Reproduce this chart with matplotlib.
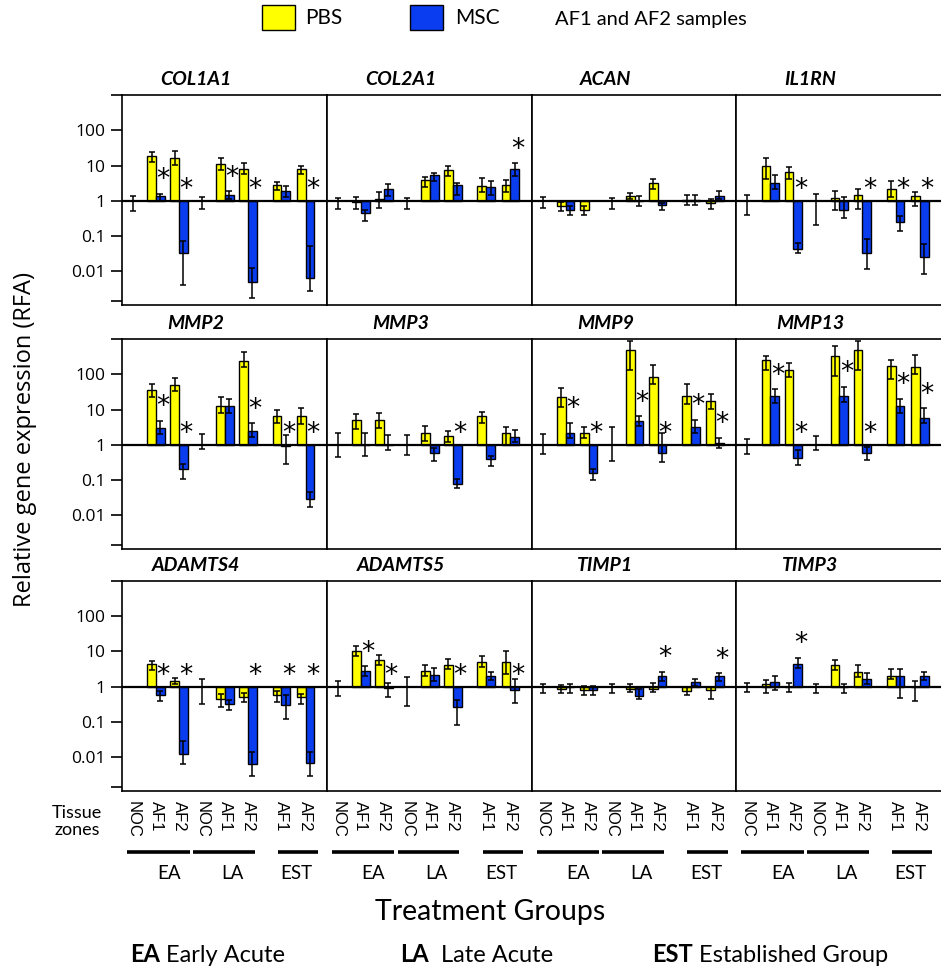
import matplotlib
matplotlib.use('Agg')
import matplotlib.pyplot as plt
import matplotlib.transforms as mtransforms
from matplotlib.patches import Rectangle

# genes, one panel each (row by row)
genes = ['COL1A1', 'COL2A1', 'ACAN', 'IL1RN',
         'MMP2', 'MMP3', 'MMP9', 'MMP13',
         'ADAMTS4', 'ADAMTS5', 'TIMP1', 'TIMP3']

# tissue zones: NOC controls (EA, LA) and AF samples (EA AF1, EA AF2, LA AF1, LA AF2, EST AF1, EST AF2)
zone_labels = ['NOC', 'AF1', 'AF2', 'NOC', 'AF1', 'AF2', 'AF1', 'AF2']
groups = ['EA', 'LA', 'EST']

# NOC error range (value = 1), None = not shown
noc_low = [[0.5, 0.6], [0.57, 0.57], [0.62, 0.6], [0.4, 0.21],
           [None, 0.75], [0.44, 0.52], [0.56, 0.34], [0.56, 0.69],
           [None, 0.33], [0.56, 0.29], [0.66, 0.66], [0.69, 0.66]]
noc_high = [[1.35, 1.3], [1.2, 1.2], [1.3, 1.2], [1.5, 1.57],
            [None, 2.0], [2.1, 1.9], [2.0, 3.3], [1.5, 1.8],
            [None, 1.64], [1.47, 1.95], [1.19, 1.19], [1.27, 1.19]]

# PBS (yellow)
pbs_mean = [[19, 16, 11, 8, 2.8, 8],
            [0.9, 1.1, 4.0, 7.5, 2.7, 2.8],
            [0.7, 0.55, 1.4, 3.2, 1.05, 0.85],
            [10, 6.5, 1.2, 1.5, 2.2, 1.35],
            [35, 50, 13, 240, 6.5, 6.5],
            [5, 5, 2.2, 1.75, 6.5, 2.2],
            [22, 2.2, 480, 85, 25, 17],
            [250, 130, 320, 480, 170, 160],
            [4.3, 1.5, 0.45, 0.5, 0.6, 0.5],
            [10, 5.8, 2.8, 4.2, 5, 5],
            [0.85, 0.8, 0.85, 0.85, 0.75, 0.8],
            [1.2, 1.0, 4.2, 2.7, 2.0, 1.0]]
pbs_low = [[13, 10.5, 7.6, 5.8, 2.0, 5.6],
           [0.6, 0.62, 2.5, 4.9, 1.75, 1.75],
           [0.5, 0.39, 1.1, 2.1, 0.77, 0.58],
           [4.2, 4.2, 0.54, 0.6, 1.27, 0.7],
           [22, 33, 8.1, 160, 4.1, 3.9],
           [2.8, 2.9, 1.3, 1.2, 4.1, 1.0],
           [11.5, 1.55, 130, 52, 14, 10.1],
           [130, 84, 90, 130, 72, 100],
           [3.0, 1.2, 0.26, 0.36, 0.36, 0.33],
           [7.4, 4.05, 2.0, 3.1, 3.6, 2.3],
           [0.66, 0.58, 0.69, 0.69, 0.58, 0.45],
           [0.65, 0.69, 3.0, 1.95, 1.64, 0.4]]
pbs_high = [[25, 26, 16, 11.8, 3.5, 9.9],
            [1.3, 1.75, 4.8, 9.9, 4.4, 4.0],
            [0.92, 0.7, 1.65, 4.2, 1.45, 1.1],
            [16, 9.3, 1.95, 2.2, 3.7, 1.8],
            [52, 79, 23, 425, 10, 10.8],
            [7.5, 7.8, 3.5, 2.4, 8.3, 3.3],
            [41, 3.1, 870, 180, 52, 27],
            [330, 212, 630, 870, 260, 345],
            [5.35, 1.8, 0.62, 0.66, 0.77, 0.62],
            [14.7, 8.2, 4.05, 6, 7.4, 10.2],
            [1.1, 1.07, 1.19, 1.3, 0.96, 1.0],
            [1.57, 1.27, 5.7, 4.1, 3.1, 1.47]]

# MSC (blue)
msc_mean = [[1.4, 0.034, 1.5, 0.005, 1.9, 0.0063],
            [0.45, 2.1, 5.5, 2.8, 2.4, 8.0],
            [0.55, None, 1.0, 0.75, 1.05, 1.4],
            [3.3, 0.044, 0.55, 0.032, 0.25, 0.026],
            [2.95, 0.2, 13, 2.4, 0.9, 0.028],
            [1.0, 1.0, 0.6, 0.078, 0.4, 1.7],
            [2.2, 0.16, 4.75, 0.6, 3.3, 1.1],
            [24, 0.42, 24.5, 0.6, 12.6, 5.6],
            [0.6, 0.012, 0.32, 0.0063, 0.3, 0.0068],
            [2.8, 0.9, 2.1, 0.26, 2.0, 0.8],
            [1.0, 0.8, 0.55, 2.0, 1.4, 2.0],
            [1.4, 4.5, 1.0, 1.65, 2.0, 2.0]]
msc_low = [[1.0, 0.0041, 1.1, 0.0018, 1.3, 0.0028],
           [0.26, 1.4, 3.6, 1.5, 1.5, 5.2],
           [0.39, None, 0.7, 0.55, 0.78, 1.1],
           [2.1, 0.034, 0.33, 0.0116, 0.14, 0.0084],
           [2.0, 0.108, 7.8, 1.65, 0.29, 0.0175],
           [0.47, 0.72, 0.35, 0.058, 0.25, 1.2],
           [1.55, 0.103, 3.4, 0.33, 2.2, 0.8],
           [15, 0.27, 16, 0.36, 8.1, 4.1],
           [0.4, 0.0063, 0.22, 0.003, 0.124, 0.0029],
           [2.0, 0.5, 1.47, 0.084, 1.57, 0.35],
           [0.66, 0.58, 0.45, 1.47, 1.07, 1.47],
           [0.82, 3.3, 0.66, 1.19, 0.47, 1.57]]
msc_high = [[1.6, 0.071, 1.9, 0.0127, 2.6, 0.052],
            [0.53, 3.0, 6.1, 3.1, 3.7, 11.8],
            [0.7, None, 1.35, 0.85, 1.5, 1.95],
            [5.5, 0.065, 1.25, 0.08, 0.37, 0.058],
            [4.8, 0.29, 20.5, 4.1, 1.9, 0.046],
            [2.2, 1.9, 0.8, 0.108, 0.49, 2.65],
            [4.25, 0.2, 6.5, 2.1, 5.1, 1.6],
            [38, 0.69, 44, 0.86, 20.5, 10.8],
            [0.77, 0.029, 0.42, 0.0145, 0.58, 0.0145],
            [3.9, 1.3, 3.5, 0.42, 2.6, 1.7],
            [1.19, 1.07, 0.86, 2.7, 1.64, 2.4],
            [2.0, 6.6, 1.19, 2.4, 3.1, 2.6]]
msc_star = [[1, 1, 1, 1, 0, 1], [0, 0, 0, 0, 0, 1], [0, 0, 0, 0, 0, 0], [0, 1, 0, 1, 1, 1],
            [1, 1, 0, 1, 1, 1], [0, 0, 0, 1, 0, 0], [1, 1, 1, 1, 1, 1], [1, 1, 1, 1, 1, 1],
            [1, 1, 0, 1, 1, 1], [1, 1, 0, 1, 0, 1], [0, 0, 0, 1, 0, 1], [0, 1, 0, 0, 0, 0]]

# x slots inside each panel
noc_x = [0, 3]
af_x = [1, 2, 4, 5, 6.45, 7.5]
bw = 0.38
yellow = '#FFFF00'
blue = '#0A3CF0'

plt.rcParams['font.family'] = ['Open Sans', 'DejaVu Sans']

fig = plt.figure(figsize=(9.41, 9.69), dpi=100)
left0 = 122 / 941
pw = 204.75 / 941
ph = 0.2167
bottoms = [0.6852, 0.4334, 0.1837]

for i, gene in enumerate(genes):
    r, c = divmod(i, 4)
    ax = fig.add_axes([left0 + c * pw, bottoms[r], pw, ph])
    ax.set_yscale('log')
    ax.set_ylim(0.0011, 1000)
    ax.set_xlim(-0.48, 8.42)
    ax.axhline(1, color='black', lw=1.6, zorder=3)

    for k, x in enumerate(af_x):
        bars = [(pbs_mean[i][k], pbs_low[i][k], pbs_high[i][k], yellow, -bw / 2),
                (msc_mean[i][k], msc_low[i][k], msc_high[i][k], blue, bw / 2)]
        for val, lo, hi, col, dx in bars:
            if val is None:
                continue
            ax.bar(x + dx, val - 1, bottom=1, width=bw, color=col,
                   edgecolor='black', linewidth=1.0, zorder=2)
            ax.errorbar(x + dx, val, yerr=[[val - lo], [hi - val]], fmt='none',
                        ecolor='black', elinewidth=1.1, capsize=2.5, capthick=1.1, zorder=4)
        if msc_star[i][k]:
            m = msc_mean[i][k]
            sy = msc_high[i][k] * 2.4 if m >= 1 else 2.0
            ax.text(x + bw / 2 + 0.12, sy, '*', ha='center', va='center',
                    fontsize=19, family='DejaVu Sans', zorder=5)

    for k, x in enumerate(noc_x):
        if noc_low[i][k] is None:
            continue
        ax.errorbar(x, 1, yerr=[[1 - noc_low[i][k]], [noc_high[i][k] - 1]], fmt='none',
                    ecolor='black', elinewidth=1.1, capsize=2.5, capthick=1.1, zorder=4)

    for sp in ax.spines.values():
        sp.set_linewidth(1.2)
    if c == 3:
        ax.spines['right'].set_visible(False)

    ax.text(0.36, 1.075, gene, transform=ax.transAxes, ha='center', va='center',
            fontsize=14, fontweight='bold', fontstyle='italic', family='Lato')

    ax.minorticks_off()
    if c == 0:
        ax.set_yticks([0.0014, 0.01, 0.1, 1, 10, 100, 1000],
                      ['', '0.01', '0.1', '1', '10', '100', ''])
        ax.tick_params(axis='y', length=8, width=1.2, labelsize=12.5, pad=4)
    else:
        ax.set_yticks([])

    if r == 2:
        ax.set_xticks([0, 1, 2, 3, 4, 5, 6.45, 7.5])
        ax.set_xticklabels(zone_labels, rotation=-90, fontsize=12, family='Liberation Sans')
        ax.tick_params(axis='x', length=0, pad=7)
        # group underlines and labels
        trans = mtransforms.blended_transform_factory(ax.transData, fig.transFigure)
        spans = [(-0.26, 2.46), (2.6, 5.29), (6.3, 8.04)]
        label_x = [1.55, 4.3, 7.1]
        for (x0, x1), lx, g in zip(spans, label_x, groups):
            ax.plot([x0, x1], [0.1207, 0.1207], color='black', lw=2.6,
                    transform=trans, clip_on=False, solid_capstyle='butt')
            ax.text(lx, 0.099, g, transform=trans, ha='center', va='center',
                    fontsize=13.5, family='Lato')
    else:
        ax.set_xticks([])

fig.text(0.0266, 0.546, 'Relative gene expression (RFA)', rotation=90,
         ha='center', va='center', fontsize=17)
fig.text(0.0818, 0.152, 'Tissue\nzones', ha='center', va='center',
         fontsize=13, family='Lato', linespacing=1.05)
fig.text(0.5207, 0.0588, 'Treatment Groups', ha='center', va='center',
         fontsize=20.5, family='Lato')

# legend at the top
fig.patches.append(Rectangle((262 / 941, 1 - 30 / 969), 33 / 941, 25 / 969, facecolor=yellow,
                             edgecolor='black', lw=1, transform=fig.transFigure))
fig.patches.append(Rectangle((410 / 941, 1 - 30 / 969), 33 / 941, 25 / 969, facecolor=blue,
                             edgecolor='black', lw=1, transform=fig.transFigure))
fig.text(305 / 941, 1 - 18 / 969, 'PBS', ha='left', va='center', fontsize=15, family='Lato')
fig.text(455 / 941, 1 - 18 / 969, 'MSC', ha='left', va='center', fontsize=15, family='Lato')
fig.text(555 / 941, 1 - 20 / 969, 'AF1 and AF2 samples', ha='left', va='center',
         fontsize=14.5, family='Lato')

# footer with abbreviations
footer = [(130, 'EA', ' Early Acute'), (400, 'LA', '  Late Acute'), (652, 'EST', ' Established Group')]
for fx, abbr, desc in footer:
    t = fig.text(fx / 941, 0.0145, abbr, ha='left', va='center', fontsize=17,
                 fontweight='bold', family='Lato')
    plt.annotate(desc, xy=(1, 0), xycoords=t, ha='left', va='bottom', fontsize=17, family='Lato')

fig.savefig('out.png', dpi=100)
